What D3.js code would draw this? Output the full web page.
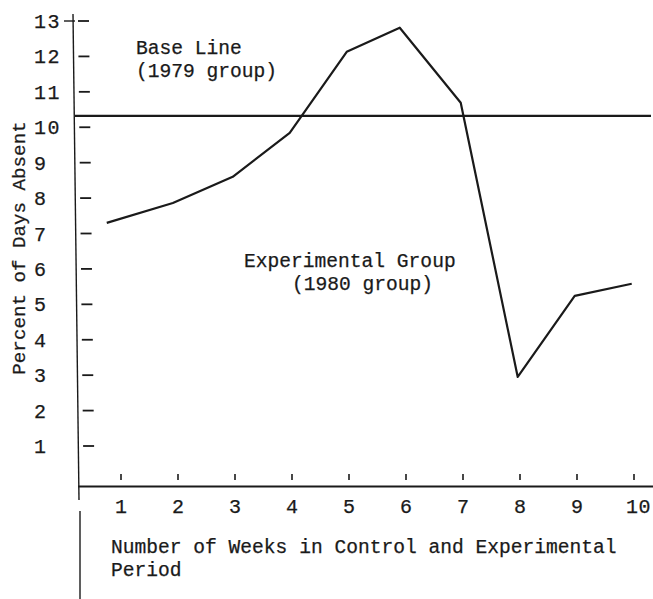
<!DOCTYPE html>
<html>
<head>
<meta charset="utf-8">
<script src="https://cdn.jsdelivr.net/npm/d3@7"></script>
<style>
	body { margin: 0; background: #fff; }
	text { font-family: "Liberation Mono", "DejaVu Sans Mono", monospace; fill: #1a1a1a; stroke: #1a1a1a; stroke-width: 0.25px; }
</style>
</head>
<body>
<div id="canvas"></div>
<script>
// tick labels
const weeks = [1, 2, 3, 4, 5, 6, 7, 8, 9, 10];
const yTicks = [1, 2, 3, 4, 5, 6, 7, 8, 9, 10, 11, 12, 13];
// experimental group (1980), where each point sits on the week scale
const pointWeeks = [0.75, 1.91, 2.96, 3.96, 4.96, 5.89, 6.96, 7.96, 8.96, 9.96];
const absentPct = [7.3, 7.86, 8.6, 9.84, 12.13, 12.81, 10.69, 2.95, 5.24, 5.58];
// base line (1979 group)
const baseLine = 10.32;

let width = 653;
let height = 599;

let svg = d3
	.select("#canvas")
	.append("svg")
	.attr("width", width)
	.attr("height", height);

let x = d3.scaleLinear().domain([1, 10]).range([121, 634]);
let y = d3.scaleLinear().domain([1, 13]).range([446, 21]);

let ink = "#1a1a1a";

// y axis line (slightly slanted like the typed original), with a break under the x axis
svg.append("line")
	.attr("x1", 73).attr("y1", 14)
	.attr("x2", 79).attr("y2", 500)
	.attr("stroke", ink).attr("stroke-width", 1.4);
svg.append("line")
	.attr("x1", 80).attr("y1", 511)
	.attr("x2", 80).attr("y2", 599)
	.attr("stroke", ink).attr("stroke-width", 1.4);
// little cross at 13
svg.append("line")
	.attr("x1", 64).attr("x2", 75)
	.attr("y1", y(13)).attr("y2", y(13))
	.attr("stroke", ink).attr("stroke-width", 1.4);

// y tick dashes + labels (dashes drift right a bit going down, as typed)
let yt = svg.append("g").selectAll("g").data(yTicks).enter().append("g");
yt.append("line")
	.attr("x1", (d) => 78 + (y(d) - y(13)) * 0.012)
	.attr("x2", (d) => 89 + (y(d) - y(13)) * 0.012)
	.attr("y1", (d) => y(d))
	.attr("y2", (d) => y(d))
	.attr("stroke", ink)
	.attr("stroke-width", 1.8);
yt.append("text")
	.attr("x", 34)
	.attr("y", (d) => y(d) + 7)
	.attr("font-size", 20)
	.attr("letter-spacing", 1.5)
	.text((d) => d);

// x axis
svg.append("line")
	.attr("x1", 78).attr("x2", 653)
	.attr("y1", 486.5).attr("y2", 486.5)
	.attr("stroke", ink).attr("stroke-width", 2);

let xt = svg.append("g").selectAll("g").data(weeks).enter().append("g");
xt.append("line")
	.attr("x1", (d) => x(d)).attr("x2", (d) => x(d))
	.attr("y1", 474).attr("y2", 480)
	.attr("stroke", ink).attr("stroke-width", 1.6);
xt.append("text")
	.attr("x", (d) => x(d) - (d === 10 ? 8 : 6))
	.attr("y", 513)
	.attr("font-size", 20)
	.attr("letter-spacing", (d) => (d === 10 ? 0.5 : 1.5))
	.text((d) => d);

// base line
svg.append("line")
	.attr("x1", 75).attr("x2", 651)
	.attr("y1", y(baseLine)).attr("y2", y(baseLine))
	.attr("stroke", ink).attr("stroke-width", 2.2);

// experimental group line
let line = d3.line()
	.x((d, i) => x(pointWeeks[i]))
	.y((d) => y(d));
svg.append("path")
	.datum(absentPct)
	.attr("d", line)
	.attr("fill", "none")
	.attr("stroke", ink)
	.attr("stroke-width", 2.2)
	.attr("stroke-linejoin", "round");

// annotations
let fs = 19.6;
svg.append("text").attr("x", 136).attr("y", 54).attr("font-size", fs).text("Base Line");
svg.append("text").attr("x", 136).attr("y", 77).attr("font-size", fs).text("(1979 group)");
svg.append("text").attr("x", 244).attr("y", 267).attr("font-size", fs).text("Experimental Group");
svg.append("text").attr("x", 292).attr("y", 290).attr("font-size", fs).text("(1980 group)");

// axis titles
svg.append("text").attr("x", 111).attr("y", 553).attr("font-size", fs)
	.text("Number of Weeks in Control and Experimental");
svg.append("text").attr("x", 111).attr("y", 576).attr("font-size", fs).text("Period");
svg.append("text")
	.attr("transform", "translate(25,248) rotate(-90)")
	.attr("text-anchor", "middle")
	.attr("font-size", 19.2)
	.text("Percent of Days Absent");
</script>
</body>
</html>
